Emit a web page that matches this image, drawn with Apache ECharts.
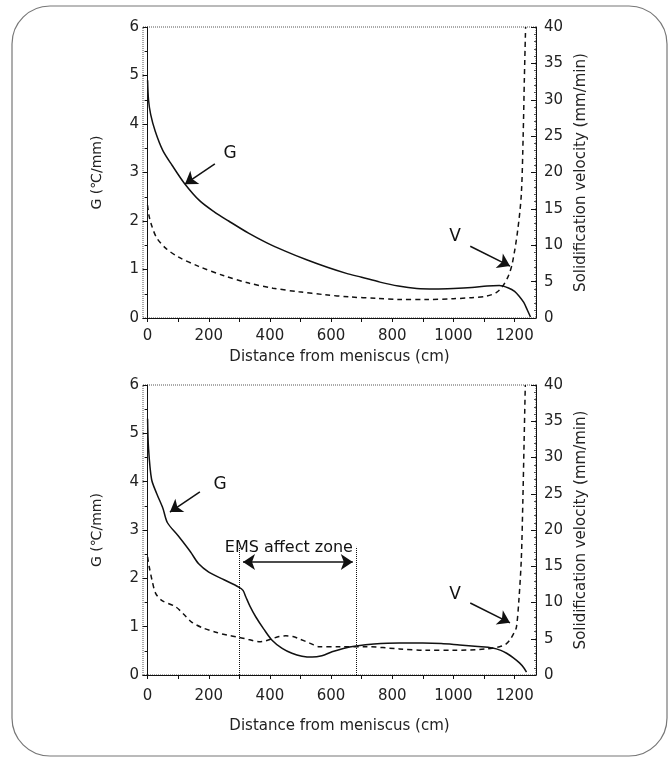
<!DOCTYPE html>
<html>
<head>
<meta charset="utf-8">
<title>G and V vs distance from meniscus</title>
<script src="https://cdn.jsdelivr.net/npm/echarts@6/dist/echarts.min.js"></script>
<style>
  html, body { margin: 0; padding: 0; background: #fff; }
  #main { width: 672px; height: 758px; }
</style>
</head>
<body>
<div id="main"></div>
<script>
// top panel: without EMS
var topGx = [0, 3, 10, 25, 50, 80, 120, 170, 220, 265, 330, 390, 450, 520, 590, 650, 700, 760, 820, 880, 940, 1000, 1060, 1110, 1150, 1180, 1200, 1215, 1230, 1242, 1252];
var topG  = [4.9, 4.5, 4.2, 3.85, 3.45, 3.15, 2.78, 2.42, 2.18, 2.0, 1.75, 1.55, 1.38, 1.2, 1.04, 0.92, 0.84, 0.74, 0.66, 0.61, 0.6, 0.61, 0.63, 0.66, 0.67, 0.62, 0.55, 0.45, 0.32, 0.16, 0.02];
var topVx = [0, 5, 15, 30, 59, 100, 167, 250, 331, 410, 495, 580, 659, 750, 823, 911, 1000, 1060, 1108, 1140, 1160, 1180, 1193, 1210, 1222, 1228, 1232, 1236];
var topV  = [15.5, 14, 12.5, 11, 9.6, 8.4, 7.1, 5.8, 4.8, 4.1, 3.6, 3.2, 2.9, 2.7, 2.55, 2.55, 2.65, 2.8, 3.0, 3.5, 4.3, 5.8, 7.6, 12, 17, 25, 33, 40];

// bottom panel: with EMS
var botGx = [0, 3, 13, 30, 50, 65, 100, 140, 167, 200, 250, 298, 312, 321, 335, 354, 380, 407, 440, 472, 505, 538, 570, 603, 640, 682, 740, 823, 900, 960, 1020, 1080, 1128, 1155, 1174, 1195, 1216, 1230, 1239];
var botG  = [5.3, 4.7, 4.05, 3.75, 3.45, 3.15, 2.88, 2.55, 2.3, 2.13, 1.97, 1.82, 1.75, 1.62, 1.42, 1.2, 0.95, 0.72, 0.55, 0.45, 0.39, 0.37, 0.4, 0.48, 0.55, 0.6, 0.64, 0.66, 0.66, 0.65, 0.62, 0.59, 0.56, 0.51, 0.45, 0.36, 0.25, 0.15, 0.06];
var botVx = [0, 5, 15, 26, 46, 92, 120, 144, 180, 223, 260, 298, 330, 364, 385, 407, 430, 452, 475, 495, 530, 561, 626, 715, 823, 911, 1000, 1108, 1151, 1170, 1184, 1198, 1206, 1214, 1222, 1227, 1231, 1235];
var botV  = [16.3, 15, 13, 11.3, 10.3, 9.4, 8.3, 7.3, 6.5, 5.9, 5.5, 5.2, 4.9, 4.6, 4.7, 5.0, 5.3, 5.4, 5.3, 5.0, 4.4, 3.9, 3.9, 3.9, 3.6, 3.4, 3.4, 3.6, 3.9, 4.2, 4.8, 5.8, 6.6, 10.3, 16, 24, 32, 40];

var xLabels = [0, 200, 400, 600, 800, 1000, 1200];
var xTicks = [0, 100, 200, 300, 400, 500, 600, 700, 800, 900, 1000, 1100, 1200];

// EMS zone limits (cm)
var emsStart = 300;
var emsEnd = 683;

function pairs(xs, ys) {
  return xs.map(function (x, i) { return [x, ys[i]]; });
}

var font = 'DejaVu Sans, Liberation Sans, sans-serif';
var ink = '#222';

function xAxisFor(gi, gap, margin) {
  return {
    type: 'value', gridIndex: gi, min: -15, max: 1270,
    name: 'Distance from meniscus (cm)', nameLocation: 'middle', nameGap: gap,
    nameTextStyle: { fontFamily: font, fontSize: 15, color: ink },
    axisLine: { show: true, lineStyle: { color: '#111', width: 1 } },
    axisTick: { show: true, customValues: xTicks, length: 4, lineStyle: { color: '#111' } },
    axisLabel: {
      customValues: xLabels, fontFamily: font, fontSize: 15, color: ink, margin: margin,
      formatter: function (v) { return String(v); }
    },
    splitLine: { show: false }
  };
}

function leftAxisFor(gi) {
  return {
    type: 'value', gridIndex: gi, min: 0, max: 6, interval: 1, position: 'left',
    name: 'G (\u2103/mm)', nameLocation: 'middle', nameGap: 39, nameRotate: 90,
    nameTextStyle: { fontFamily: font, fontSize: 14, color: ink },
    axisLine: { show: true, lineStyle: { color: '#111', width: 1 } },
    axisTick: { show: true, length: 5, lineStyle: { color: '#111' } },
    minorTick: { show: true, splitNumber: 2, length: 3, lineStyle: { color: '#111' } },
    axisLabel: { fontFamily: font, fontSize: 15, color: ink, margin: 4 },
    splitLine: { show: false }
  };
}

function rightAxisFor(gi) {
  return {
    type: 'value', gridIndex: gi, min: 0, max: 40, interval: 5, position: 'right',
    name: 'Solidification velocity (mm/min)', nameLocation: 'middle', nameGap: 34, nameRotate: 90,
    nameTextStyle: { fontFamily: font, fontSize: 15, color: ink },
    axisLine: { show: true, lineStyle: { color: '#111', width: 1 } },
    axisTick: { show: true, inside: true, length: 5, lineStyle: { color: '#111' } },
    minorTick: { show: true, splitNumber: 5, length: 2, lineStyle: { color: '#555' } },
    axisLabel: { fontFamily: font, fontSize: 15, color: ink, margin: 8 },
    splitLine: { show: false }
  };
}

function arrow(from, to) {
  return [{ coord: from, symbol: 'none' }, { coord: to, symbol: 'arrow' }];
}

var lbl = { show: true, fontFamily: font, fontSize: 17, color: '#111', formatter: '{b}' };

var option = {
  animation: false,
  backgroundColor: '#fff',
  graphic: [{
    type: 'rect',
    shape: { x: 12, y: 6, width: 655, height: 750, r: 38 },
    style: { fill: 'none', stroke: '#777', lineWidth: 1.2 },
    z: -10
  }],
  grid: [
    { left: 143, top: 27, width: 393, height: 291, show: true, borderColor: '#555', borderWidth: 1, borderType: 'dotted' },
    { left: 143, top: 385, width: 393, height: 290, show: true, borderColor: '#555', borderWidth: 1, borderType: 'dotted' }
  ],
  xAxis: [xAxisFor(0, 32, 11), xAxisFor(1, 44, 14)],
  yAxis: [leftAxisFor(0), rightAxisFor(0), leftAxisFor(1), rightAxisFor(1)],
  series: [
    {
      name: 'G', type: 'line', xAxisIndex: 0, yAxisIndex: 0, smooth: 0.3,
      symbol: 'none', lineStyle: { color: '#111', width: 1.5 },
      data: pairs(topGx, topG),
      markLine: {
        silent: true, symbolSize: 12, label: { show: false },
        lineStyle: { color: '#111', width: 1.5, type: 'solid' },
        data: [arrow([220, 3.18], [122, 2.76]), arrow([1055, 1.48], [1185, 1.07])]
      },
      markPoint: {
        symbol: 'circle', symbolSize: 0, label: lbl,
        data: [{ name: 'G', coord: [270, 3.4] }, { name: 'V', coord: [1005, 1.67] }]
      }
    },
    {
      name: 'V', type: 'line', xAxisIndex: 0, yAxisIndex: 1, smooth: 0.3,
      symbol: 'none', lineStyle: { color: '#111', width: 1.5, type: [5, 4] },
      data: pairs(topVx, topV)
    },
    {
      name: 'G', type: 'line', xAxisIndex: 1, yAxisIndex: 2, smooth: 0.3,
      symbol: 'none', lineStyle: { color: '#111', width: 1.5 },
      data: pairs(botGx, botG),
      markLine: {
        silent: true, symbolSize: 12, label: { show: false },
        lineStyle: { color: '#111', width: 1.5, type: 'solid' },
        data: [
          arrow([171, 3.79], [73, 3.37]),
          arrow([1055, 1.49], [1185, 1.08]),
          [{ coord: [emsStart + 12, 2.34], symbol: 'arrow' }, { coord: [emsEnd - 12, 2.34], symbol: 'arrow' }],
          [{ coord: [emsStart, 0], symbol: 'none', lineStyle: { type: 'dotted', width: 1 } }, { coord: [emsStart, 2.65], symbol: 'none' }],
          [{ coord: [emsEnd, 0], symbol: 'none', lineStyle: { type: 'dotted', width: 1 } }, { coord: [emsEnd, 2.65], symbol: 'none' }]
        ]
      },
      markPoint: {
        symbol: 'circle', symbolSize: 0, label: lbl,
        data: [
          { name: 'G', coord: [237, 3.93] },
          { name: 'V', coord: [1005, 1.66] },
          { name: 'EMS affect zone', coord: [462, 2.63], label: { fontSize: 16 } }
        ]
      }
    },
    {
      name: 'V', type: 'line', xAxisIndex: 1, yAxisIndex: 3, smooth: 0.3,
      symbol: 'none', lineStyle: { color: '#111', width: 1.5, type: [5, 4] },
      data: pairs(botVx, botV)
    }
  ]
};

var chart = echarts.init(document.getElementById('main'), null, { renderer: 'canvas' });
chart.setOption(option);
</script>
</body>
</html>
